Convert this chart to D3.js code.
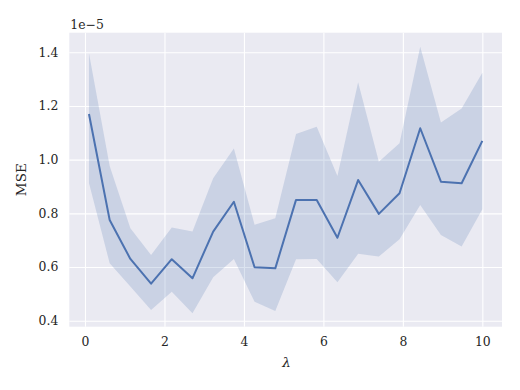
<!DOCTYPE html>
<html>
<head>
<meta charset="utf-8">
<script src="https://cdn.jsdelivr.net/npm/d3@7"></script>
<style>
  body { margin: 0; background: #fff; }
  svg text { font-family: "DejaVu Serif", serif; fill: #262626; }
</style>
</head>
<body>
<div id="chart"></div>
<script>
// ========== DATA ==========
const lambdas = [0.1, 0.621, 1.142, 1.663, 2.184, 2.705, 3.226, 3.747, 4.268, 4.789,
                 5.311, 5.832, 6.353, 6.874, 7.395, 7.916, 8.437, 8.958, 9.479, 10];
const mseMean = [1.170, 0.775, 0.630, 0.538, 0.629, 0.558, 0.732, 0.843, 0.599, 0.595,
                 0.850, 0.850, 0.709, 0.924, 0.798, 0.875, 1.117, 0.918, 0.912, 1.070];
const mseUpper = [1.396, 0.976, 0.744, 0.645, 0.747, 0.732, 0.931, 1.042, 0.757, 0.782,
                  1.096, 1.123, 0.939, 1.288, 0.992, 1.061, 1.421, 1.138, 1.191, 1.324];
const mseLower = [0.913, 0.614, 0.527, 0.440, 0.508, 0.428, 0.562, 0.630, 0.471, 0.436,
                  0.629, 0.630, 0.543, 0.649, 0.639, 0.703, 0.831, 0.719, 0.676, 0.815];
const xTicks = [0, 2, 4, 6, 8, 10];
const yTicks = [0.4, 0.6, 0.8, 1.0, 1.2, 1.4];

// ========== CHART ==========
const width = 520, height = 390;
const plot = { left: 69.3, right: 502, top: 32.7, bottom: 326.7 };
const color = "#4C72B0";

const svg = d3.select("#chart").append("svg")
  .attr("width", width)
  .attr("height", height);

const x = d3.scaleLinear().domain([-0.395, 10.495]).range([plot.left, plot.right]);
const y = d3.scaleLinear().domain([0.3776, 1.473]).range([plot.bottom, plot.top]);

// background
svg.append("rect")
  .attr("x", plot.left)
  .attr("y", plot.top)
  .attr("width", plot.right - plot.left)
  .attr("height", plot.bottom - plot.top)
  .style("fill", "#EAEAF2");

// grid lines
svg.append("g")
  .attr("transform", `translate(0, ${plot.bottom})`)
  .call(d3.axisBottom(x).tickValues(xTicks).tickSize(-(plot.bottom - plot.top)).tickFormat(""))
  .call(g => g.select(".domain").remove())
  .call(g => g.selectAll("line").style("stroke", "white").style("stroke-width", 1.1));

svg.append("g")
  .attr("transform", `translate(${plot.left}, 0)`)
  .call(d3.axisLeft(y).tickValues(yTicks).tickSize(-(plot.right - plot.left)).tickFormat(""))
  .call(g => g.select(".domain").remove())
  .call(g => g.selectAll("line").style("stroke", "white").style("stroke-width", 1.1));

// tick labels
svg.append("g")
  .attr("transform", `translate(0, ${plot.bottom})`)
  .call(d3.axisBottom(x).tickValues(xTicks).tickSize(0).tickPadding(11).tickFormat(d3.format("d")))
  .call(g => g.select(".domain").remove())
  .call(g => g.selectAll("text").style("font-family", "DejaVu Serif").style("font-size", "12.4px").style("fill", "#262626"));

svg.append("g")
  .attr("transform", `translate(${plot.left}, 0)`)
  .call(d3.axisLeft(y).tickValues(yTicks).tickSize(0).tickPadding(11).tickFormat(d3.format(".1f")))
  .call(g => g.select(".domain").remove())
  .call(g => g.selectAll("text").style("font-family", "DejaVu Serif").style("font-size", "12.4px").style("fill", "#262626"));

// confidence band
const data = lambdas.map((l, i) => ({ l, m: mseMean[i], lo: mseLower[i], hi: mseUpper[i] }));

svg.append("path")
  .datum(data)
  .attr("d", d3.area().x(d => x(d.l)).y0(d => y(d.lo)).y1(d => y(d.hi)))
  .style("fill", color)
  .style("fill-opacity", 0.2)
  .style("stroke", "none");

// mean line
svg.append("path")
  .datum(data)
  .attr("d", d3.line().x(d => x(d.l)).y(d => y(d.m)))
  .style("fill", "none")
  .style("stroke", color)
  .style("stroke-width", 2)
  .style("stroke-linejoin", "round");

// labels
svg.append("text")
  .attr("x", plot.left + 1)
  .attr("y", plot.top - 4)
  .style("font-size", "12.4px")
  .text("1e\u22125");

svg.append("text")
  .attr("transform", `translate(26, ${(plot.top + plot.bottom) / 2}) rotate(-90)`)
  .style("text-anchor", "middle")
  .style("font-size", "13.5px")
  .text("MSE");

svg.append("text")
  .attr("x", (plot.left + plot.right) / 2 + 1)
  .attr("y", 367)
  .style("text-anchor", "middle")
  .style("font-size", "13.5px")
  .style("font-style", "italic")
  .text("λ");
</script>
</body>
</html>
